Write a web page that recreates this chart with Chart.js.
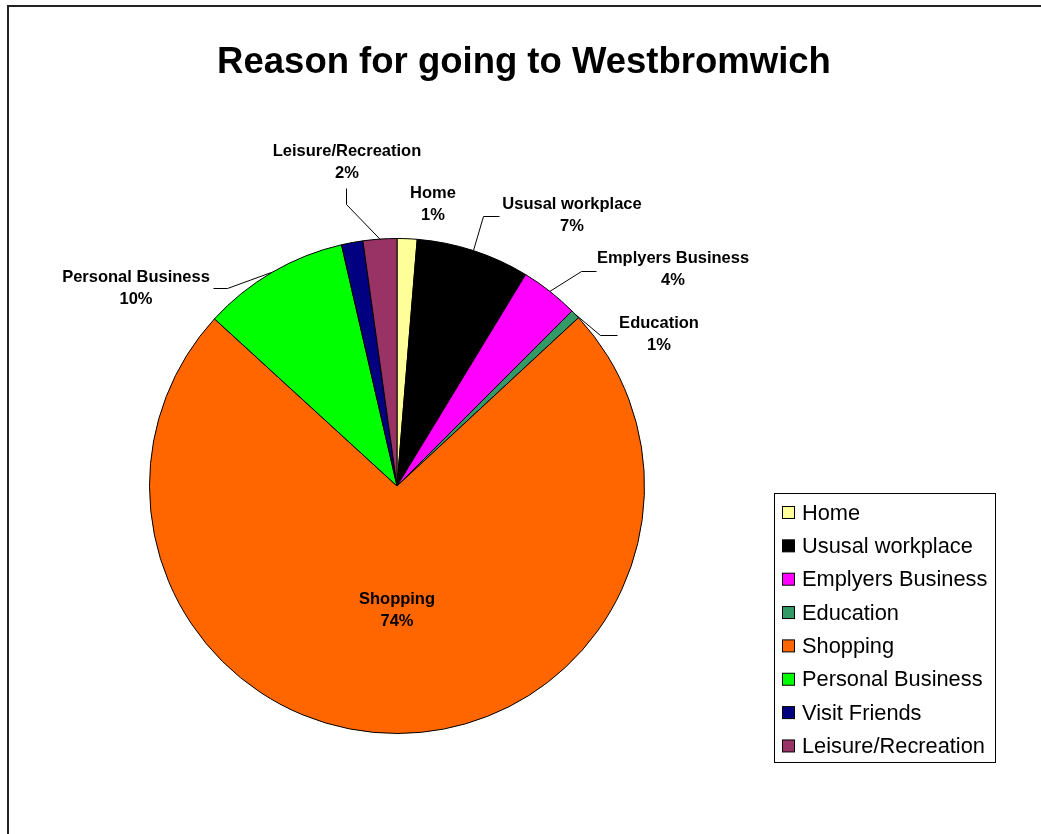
<!DOCTYPE html>
<html>
<head>
<meta charset="utf-8">
<title>Reason for going to Westbromwich</title>
<script src="https://cdn.jsdelivr.net/npm/chart.js@4/dist/chart.umd.min.js"></script>
<style>
    html, body { margin: 0; padding: 0; background: #fff; }
    canvas { display: block; }
</style>
</head>
<body>
<canvas id="chartPie" width="1041" height="834"></canvas>
<script>
const titulo = "Reason for going to Westbromwich";
const categorias = ["Home", "Ususal workplace", "Emplyers Business", "Education", "Shopping", "Personal Business", "Visit Friends", "Leisure/Recreation"];
const porcentajes = [1.3, 7.4, 3.8, 0.6, 73.7, 9.6, 1.4, 2.2];
const colores = ["#FFFF99", "#000000", "#FF00FF", "#339966", "#FF6600", "#00FF00", "#000080", "#993366"];

// label placement relative to pie centre: text (first line centre) and leader line (elbow, end)
const etiquetas = [
    { texto: [36, -293] },
    { texto: [175, -282], linea: [[86, -270], [102, -270]] },
    { texto: [276, -228], linea: [[184, -215], [199, -215]] },
    { texto: [262, -163], linea: [[203, -151], [220, -151]] },
    { texto: [0, 113] },
    { texto: [-261, -209], linea: [[-170, -198], [-184, -198]] },
    null,
    { texto: [-50, -335], linea: [[-51, -282], [-51, -298]] },
];

const FUENTE = '"Liberation Sans", Arial, sans-serif';

const marcoYTitulo = {
    id: "marcoYTitulo",
    beforeDraw(chart) {
        const ctx = chart.ctx;
        ctx.save();
        ctx.strokeStyle = "#222";
        ctx.lineWidth = 2;
        ctx.beginPath();
        ctx.moveTo(8, chart.height);
        ctx.lineTo(8, 6);
        ctx.lineTo(chart.width, 6);
        ctx.stroke();
        ctx.fillStyle = "#000";
        ctx.font = "bold 36.5px " + FUENTE;
        ctx.textAlign = "center";
        ctx.textBaseline = "middle";
        ctx.fillText(titulo, 524, 63);
        ctx.restore();
    },
};

const etiquetasPorcentaje = {
    id: "etiquetasPorcentaje",
    afterDatasetsDraw(chart) {
        const ctx = chart.ctx;
        const arcos = chart.getDatasetMeta(0).data;
        const datos = chart.data.datasets[0].data;
        const total = datos.reduce((a, b) => a + b, 0);
        ctx.save();
        arcos.forEach((arco, i) => {
            const et = etiquetas[i];
            if (!et) return;
            const cx = arco.x, cy = arco.y;
            if (et.linea) {
                const medio = (arco.startAngle + arco.endAngle) / 2;
                ctx.strokeStyle = "#000";
                ctx.lineWidth = 1;
                ctx.beginPath();
                ctx.moveTo(cx + Math.cos(medio) * arco.outerRadius, cy + Math.sin(medio) * arco.outerRadius);
                et.linea.forEach(p => ctx.lineTo(cx + p[0] + 0.5, cy + p[1] + 0.5));
                ctx.stroke();
            }
            const pct = Math.round(datos[i] / total * 100) + "%";
            ctx.fillStyle = "#000";
            ctx.font = "bold 16.5px " + FUENTE;
            ctx.textAlign = "center";
            ctx.textBaseline = "middle";
            ctx.fillText(chart.data.labels[i], cx + et.texto[0], cy + et.texto[1]);
            ctx.fillText(pct, cx + et.texto[0], cy + et.texto[1] + 22);
        });
        ctx.restore();
    },
};

const leyenda = {
    id: "leyenda",
    afterDraw(chart) {
        const ctx = chart.ctx;
        const x0 = 774.5, y0 = 493.5, ancho = 221, alto = 269, paso = 33.35;
        ctx.save();
        ctx.strokeStyle = "#000";
        ctx.lineWidth = 1;
        ctx.strokeRect(x0, y0, ancho, alto);
        ctx.font = "21.8px " + FUENTE;
        ctx.textBaseline = "middle";
        ctx.textAlign = "left";
        chart.data.labels.forEach((nombre, i) => {
            const y = 512.5 + i * paso;
            ctx.fillStyle = colores[i];
            ctx.fillRect(782.5, y - 6, 12, 12);
            ctx.strokeStyle = "#000";
            ctx.strokeRect(782.5, y - 6, 12, 12);
            ctx.fillStyle = "#000";
            ctx.fillText(nombre, 802, y + 1);
        });
        ctx.restore();
    },
};

new Chart(document.getElementById("chartPie").getContext("2d"), {
    type: "pie",
    data: {
        labels: categorias,
        datasets: [{
            data: porcentajes,
            backgroundColor: colores,
            borderColor: "#000",
            borderWidth: 1,
        }],
    },
    options: {
        responsive: false,
        animation: false,
        layout: { padding: { left: 149, right: 396, top: 238, bottom: 100 } },
        plugins: {
            legend: { display: false },
            title: { display: false },
            tooltip: { enabled: false },
        },
    },
    plugins: [marcoYTitulo, etiquetasPorcentaje, leyenda],
});
</script>
</body>
</html>
